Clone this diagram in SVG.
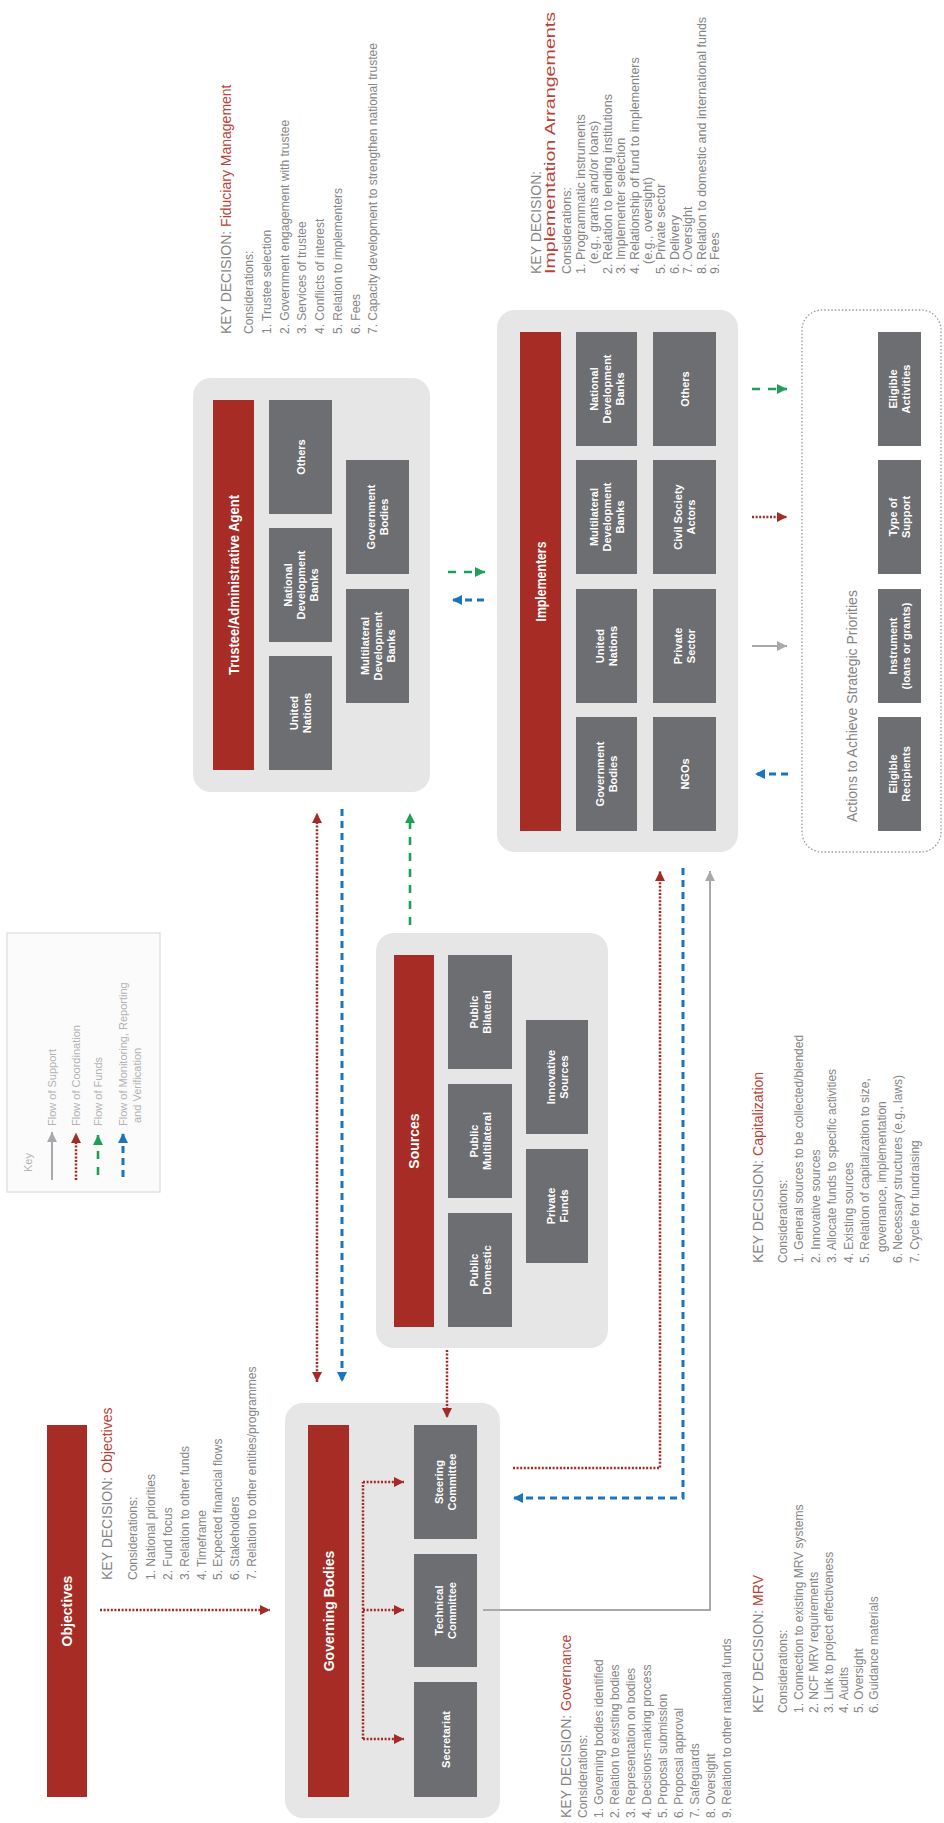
<svg xmlns="http://www.w3.org/2000/svg" width="944" height="1823" viewBox="0 0 944 1823">
  <defs>
    <marker id="ahRed" markerUnits="userSpaceOnUse" markerWidth="10" markerHeight="10" viewBox="0 0 10 10" refX="10" refY="5" orient="auto-start-reverse">
      <path d="M0,0 L10,5 L0,10 z" fill="#a32b24"/>
    </marker>
    <marker id="ahBlue" markerUnits="userSpaceOnUse" markerWidth="10" markerHeight="10" viewBox="0 0 10 10" refX="10" refY="5" orient="auto-start-reverse">
      <path d="M0,0 L10,5 L0,10 z" fill="#1c75bc"/>
    </marker>
    <marker id="ahGreen" markerUnits="userSpaceOnUse" markerWidth="10" markerHeight="10" viewBox="0 0 10 10" refX="10" refY="5" orient="auto-start-reverse">
      <path d="M0,0 L10,5 L0,10 z" fill="#1fa05a"/>
    </marker>
    <marker id="ahGray" markerUnits="userSpaceOnUse" markerWidth="10" markerHeight="10" viewBox="0 0 10 10" refX="10" refY="5" orient="auto-start-reverse">
      <path d="M0,0 L10,5 L0,10 z" fill="#a7a9ac"/>
    </marker>
  </defs>
  <style>
    .outer{fill:#e6e6e6}
    .bar{fill:#a62c25}
    .box{fill:#6d6e71}
    .barT{font-family:"Liberation Sans",Arial,sans-serif;font-size:14px;font-weight:bold;fill:#fff;text-anchor:middle}
    .boxT{font-family:"Liberation Sans",Arial,sans-serif;font-size:11px;font-weight:bold;fill:#fff;text-anchor:middle}
    .kd{font-family:"Liberation Sans",Arial,sans-serif;font-size:14px;fill:#858585}
    .red{fill:#b8433b}
    .it{font-family:"Liberation Sans",Arial,sans-serif;font-size:12px;fill:#858585}
    .itn{font-family:"Liberation Sans",Arial,sans-serif;font-size:12.5px;fill:#858585}
    .lg{font-family:"Liberation Sans",Arial,sans-serif;font-size:11px;fill:#b3b3b3}
    .crd{stroke:#a32b24;stroke-width:2.5;stroke-dasharray:2 1.6;fill:none}
    .fnd{stroke:#1fa05a;stroke-width:2.6;stroke-dasharray:8 8;fill:none}
    .mrv{stroke:#1c75bc;stroke-width:3;stroke-dasharray:7 5;fill:none}
    .sup{stroke:#a7a9ac;stroke-width:2;fill:none}
  </style>

  <!-- Drawing is laid out in landscape and turned a quarter turn counter-clockwise -->
  <g transform="translate(0,1823) rotate(-90)">

    <!-- Key -->
    <g id="legend">
      <rect x="631" y="7" width="259" height="153" fill="#fbfbfb" stroke="#dcdcdc" stroke-width="1.2"/>
      <text class="lg" x="651" y="32" font-size="12">Key</text>
      <line class="sup" x1="643" y1="52" x2="691" y2="52" marker-end="url(#ahGray)"/>
      <line class="crd" x1="643" y1="76" x2="690" y2="76" marker-end="url(#ahRed)"/>
      <line class="fnd" x1="648" y1="98" x2="688" y2="98" stroke-dasharray="14 10" marker-end="url(#ahGreen)"/>
      <line class="mrv" x1="646" y1="123" x2="690" y2="123" marker-end="url(#ahBlue)"/>
      <text class="lg" x="697" y="56">Flow of Support</text>
      <text class="lg" x="697" y="80">Flow of Coordination</text>
      <text class="lg" x="697" y="102">Flow of Funds</text>
      <text class="lg" x="697" y="127">Flow of Monitoring, Reporting</text>
      <text class="lg" x="700" y="141">and Verification</text>
    </g>

    <!-- Objectives -->
    <g id="objectives">
      <rect class="bar" x="26" y="47" width="372" height="40"/>
      <text class="barT" x="212" y="72">Objectives</text>
    </g>
    <g id="kd-objectives">
      <text class="kd" x="243" y="112">KEY DECISION: <tspan class="red">Objectives</tspan></text>
      <text class="it" x="243" y="137">Considerations:</text>
      <text class="it" x="243" y="155">1. National priorities</text>
      <text class="it" x="243" y="172">2. Fund focus</text>
      <text class="it" x="243" y="189">3. Relation to other funds</text>
      <text class="it" x="243" y="206">4. Timeframe</text>
      <text class="it" x="243" y="222">5. Expected financial flows</text>
      <text class="it" x="243" y="239">6. Stakeholders</text>
      <text class="it" x="243" y="256">7. Relation to other entities/programmes</text>
    </g>

    <!-- Governing Bodies -->
    <g id="governing-bodies">
      <rect class="outer" x="5" y="285" width="415" height="215" rx="18"/>
      <rect class="bar" x="26" y="308" width="372" height="41"/>
      <text class="barT" x="212" y="333.5">Governing Bodies</text>
      <rect class="box" x="284" y="414" width="114" height="63"/>
      <text class="boxT" x="341" y="443">Steering</text>
      <text class="boxT" x="341" y="456">Committee</text>
      <rect class="box" x="156" y="414" width="113" height="63"/>
      <text class="boxT" x="212.5" y="443">Technical</text>
      <text class="boxT" x="212.5" y="456">Committee</text>
      <rect class="box" x="26" y="414" width="115" height="63"/>
      <text class="boxT" x="83.5" y="449.5">Secretariat</text>
    </g>
    <g id="kd-governance">
      <text class="kd" x="5" y="571">KEY DECISION: <tspan class="red">Governance</tspan></text>
      <text class="it" x="5" y="587">Considerations:</text>
      <text class="it" x="5" y="603">1. Governing bodies identified</text>
      <text class="it" x="5" y="619">2. Relation to existing bodies</text>
      <text class="it" x="5" y="635">3. Representation on bodies</text>
      <text class="it" x="5" y="651">4. Decisions-making process</text>
      <text class="it" x="5" y="667">5. Proposal submission</text>
      <text class="it" x="5" y="683">6. Proposal approval</text>
      <text class="it" x="5" y="699">7. Safeguards</text>
      <text class="it" x="5" y="715">8. Oversight</text>
      <text class="it" x="5" y="731">9. Relation to other national funds</text>
    </g>
    <g id="kd-mrv">
      <text class="kd" x="110" y="763">KEY DECISION: <tspan class="red">MRV</tspan></text>
      <text class="it" x="110" y="787">Considerations:</text>
      <text class="it" x="110" y="803">1. Connection to existing MRV systems</text>
      <text class="it" x="110" y="818">2. NCF MRV requirements</text>
      <text class="it" x="110" y="833">3. Link to project effectiveness</text>
      <text class="it" x="110" y="848">4. Audits</text>
      <text class="it" x="110" y="863">5. Oversight</text>
      <text class="it" x="110" y="878">6. Guidance materials</text>
    </g>

    <!-- Sources -->
    <g id="sources">
      <rect class="outer" x="475" y="376" width="415" height="232" rx="18"/>
      <rect class="bar" x="496" y="394" width="372" height="40"/>
      <text class="barT" x="682" y="419">Sources</text>
      <rect class="box" x="754" y="448" width="114" height="64"/>
      <text class="boxT" x="811" y="477.5">Public</text>
      <text class="boxT" x="811" y="490.5">Bilateral</text>
      <rect class="box" x="625" y="448" width="114" height="64"/>
      <text class="boxT" x="682" y="477.5">Public</text>
      <text class="boxT" x="682" y="490.5">Multilateral</text>
      <rect class="box" x="496" y="448" width="114" height="64"/>
      <text class="boxT" x="553" y="477.5">Public</text>
      <text class="boxT" x="553" y="490.5">Domestic</text>
      <rect class="box" x="689" y="526" width="114" height="62"/>
      <text class="boxT" x="746" y="554.5">Innovative</text>
      <text class="boxT" x="746" y="567.5">Sources</text>
      <rect class="box" x="560" y="526" width="114" height="62"/>
      <text class="boxT" x="617" y="554.5">Private</text>
      <text class="boxT" x="617" y="567.5">Funds</text>
    </g>
    <g id="kd-capitalization">
      <text class="kd" x="560" y="763">KEY DECISION: <tspan class="red">Capitalization</tspan></text>
      <text class="it" x="560" y="787">Considerations:</text>
      <text class="it" x="560" y="803">1. General sources to be collected/blended</text>
      <text class="it" x="560" y="819.5">2. Innovative sources</text>
      <text class="it" x="560" y="836">3. Allocate funds to specific activities</text>
      <text class="it" x="560" y="852.5">4. Existing sources</text>
      <text class="it" x="560" y="869">5. Relation of capitalization to size,</text>
      <text class="it" x="571" y="885.5">governance, implementation</text>
      <text class="it" x="560" y="902">6. Necessary structures (e.g., laws)</text>
      <text class="it" x="560" y="918.5">7. Cycle for fundraising</text>
    </g>

    <!-- Trustee / Administrative Agent -->
    <g id="trustee">
      <rect class="outer" x="1031" y="193" width="414" height="237" rx="18"/>
      <rect class="bar" x="1053" y="213" width="370" height="41"/>
      <text class="barT" x="1238" y="238.5" textLength="180" lengthAdjust="spacingAndGlyphs">Trustee/Administrative Agent</text>
      <rect class="box" x="1309" y="269" width="114" height="63"/>
      <text class="boxT" x="1366" y="304.5">Others</text>
      <rect class="box" x="1181" y="269" width="114" height="63"/>
      <text class="boxT" x="1238" y="291.5">National</text>
      <text class="boxT" x="1238" y="304.5">Development</text>
      <text class="boxT" x="1238" y="317.5">Banks</text>
      <rect class="box" x="1053" y="269" width="114" height="63"/>
      <text class="boxT" x="1110" y="298">United</text>
      <text class="boxT" x="1110" y="311">Nations</text>
      <rect class="box" x="1249" y="346" width="114" height="63"/>
      <text class="boxT" x="1306" y="375">Government</text>
      <text class="boxT" x="1306" y="388">Bodies</text>
      <rect class="box" x="1120" y="346" width="114" height="63"/>
      <text class="boxT" x="1177" y="368.5">Multilateral</text>
      <text class="boxT" x="1177" y="381.5">Development</text>
      <text class="boxT" x="1177" y="394.5">Banks</text>
    </g>
    <g id="kd-fiduciary">
      <text class="kd" x="1489" y="231" font-size="16">KEY DECISION: <tspan class="red">Fiduciary Management</tspan></text>
      <text class="it" x="1489" y="253">Considerations:</text>
      <text class="it" x="1489" y="271">1. Trustee selection</text>
      <text class="it" x="1489" y="288.7">2. Government engagement with trustee</text>
      <text class="it" x="1489" y="306.4">3. Services of trustee</text>
      <text class="it" x="1489" y="324">4. Conflicts of interest</text>
      <text class="it" x="1489" y="341.8">5. Relation to implementers</text>
      <text class="it" x="1489" y="359.5">6. Fees</text>
      <text class="it" x="1489" y="377">7. Capacity development to strengthen national trustee</text>
    </g>

    <!-- Implementers -->
    <g id="implementers">
      <rect class="outer" x="971" y="497" width="542" height="241" rx="18"/>
      <rect class="bar" x="992" y="520" width="499" height="41"/>
      <text class="barT" x="1241.5" y="545.5" textLength="80" lengthAdjust="spacingAndGlyphs">Implementers</text>
      <rect class="box" x="1377" y="576" width="114" height="61"/>
      <text class="boxT" x="1434" y="597.5">National</text>
      <text class="boxT" x="1434" y="610.5">Development</text>
      <text class="boxT" x="1434" y="623.5">Banks</text>
      <rect class="box" x="1249" y="576" width="114" height="61"/>
      <text class="boxT" x="1306" y="597.5">Multilateral</text>
      <text class="boxT" x="1306" y="610.5">Development</text>
      <text class="boxT" x="1306" y="623.5">Banks</text>
      <rect class="box" x="1120" y="576" width="114" height="61"/>
      <text class="boxT" x="1177" y="604">United</text>
      <text class="boxT" x="1177" y="617">Nations</text>
      <rect class="box" x="992" y="576" width="114" height="61"/>
      <text class="boxT" x="1049" y="604">Government</text>
      <text class="boxT" x="1049" y="617">Bodies</text>
      <rect class="box" x="1377" y="653" width="114" height="63"/>
      <text class="boxT" x="1434" y="688.5">Others</text>
      <rect class="box" x="1249" y="653" width="114" height="63"/>
      <text class="boxT" x="1306" y="682">Civil Society</text>
      <text class="boxT" x="1306" y="695">Actors</text>
      <rect class="box" x="1120" y="653" width="114" height="63"/>
      <text class="boxT" x="1177" y="682">Private</text>
      <text class="boxT" x="1177" y="695">Sector</text>
      <rect class="box" x="992" y="653" width="114" height="63"/>
      <text class="boxT" x="1049" y="688.5">NGOs</text>
    </g>
    <g id="kd-implementation">
      <text class="kd" x="1549" y="541">KEY DECISION:</text>
      <text class="kd red" x="1549" y="555" font-size="14.5" textLength="262" lengthAdjust="spacingAndGlyphs">Implementation Arrangements</text>
      <text class="itn" x="1549" y="571">Considerations:</text>
      <text class="itn" x="1549" y="585">1. Programmatic instruments</text>
      <text class="itn" x="1559" y="598.4">(e.g., grants and/or loans)</text>
      <text class="itn" x="1549" y="611.8">2. Relation to lending institutions</text>
      <text class="itn" x="1549" y="625.2">3. Implementer selection</text>
      <text class="itn" x="1549" y="638.6">4. Relationship of fund to implementers</text>
      <text class="itn" x="1559" y="652">(e.g., oversight)</text>
      <text class="itn" x="1549" y="665.4">5. Private sector</text>
      <text class="itn" x="1549" y="678.8">6. Delivery</text>
      <text class="itn" x="1549" y="692.2">7. Oversight</text>
      <text class="itn" x="1549" y="705.6">8. Relation to domestic and international funds</text>
      <text class="itn" x="1549" y="719">9. Fees</text>
    </g>

    <!-- Actions to Achieve Strategic Priorities -->
    <g id="actions">
      <rect x="971" y="802" width="542" height="139" rx="20" fill="none" stroke="#9a9a9a" stroke-width="1.3" stroke-dasharray="1.5 2"/>
      <text class="kd" x="1001" y="857" font-size="14" fill="#7a7a7a">Actions to Achieve Strategic Priorities</text>
      <rect class="box" x="1377" y="878" width="114" height="43"/>
      <text class="boxT" x="1434" y="897">Eligible</text>
      <text class="boxT" x="1434" y="910">Activities</text>
      <rect class="box" x="1249" y="878" width="114" height="43"/>
      <text class="boxT" x="1306" y="897">Type of</text>
      <text class="boxT" x="1306" y="910">Support</text>
      <rect class="box" x="1120" y="878" width="114" height="43"/>
      <text class="boxT" x="1177" y="897">Instrument</text>
      <text class="boxT" x="1177" y="910">(loans or grants)</text>
      <rect class="box" x="992" y="878" width="114" height="43"/>
      <text class="boxT" x="1049" y="897">Eligible</text>
      <text class="boxT" x="1049" y="910">Recipients</text>
    </g>

    <!-- Connectors -->
    <g id="connectors">
      <!-- objectives to governing bodies -->
      <line class="crd" x1="213" y1="100" x2="213" y2="270" marker-end="url(#ahRed)"/>
      <!-- governing bodies to its committees -->
      <line class="crd" x1="84" y1="363" x2="341" y2="363"/>
      <line class="crd" x1="341" y1="363" x2="341" y2="404" marker-end="url(#ahRed)"/>
      <line class="crd" x1="213" y1="363" x2="213" y2="404" marker-end="url(#ahRed)"/>
      <line class="crd" x1="84" y1="363" x2="84" y2="404" marker-end="url(#ahRed)"/>
      <!-- sources to steering committee -->
      <line class="crd" x1="473" y1="447" x2="405" y2="447" marker-end="url(#ahRed)"/>
      <!-- governing bodies and trustee -->
      <line class="crd" x1="441" y1="317" x2="1010" y2="317" marker-start="url(#ahRed)" marker-end="url(#ahRed)"/>
      <line class="mrv" x1="1014" y1="342" x2="441" y2="342" marker-end="url(#ahBlue)"/>
      <!-- sources to trustee -->
      <line class="fnd" x1="898" y1="410" x2="1010" y2="410" marker-end="url(#ahGreen)"/>
      <!-- trustee and implementers -->
      <line class="fnd" x1="1251" y1="448" x2="1251" y2="485" stroke-dasharray="9 9" marker-end="url(#ahGreen)"/>
      <line class="mrv" x1="1223" y1="484" x2="1223" y2="452" marker-end="url(#ahBlue)"/>
      <!-- governing bodies and implementers -->
      <polyline class="crd" points="355,513 355,660 952,660" marker-end="url(#ahRed)"/>
      <polyline class="mrv" points="955,683 325,683 325,513" marker-end="url(#ahBlue)"/>
      <polyline class="sup" points="213,483 213,710 952,710" marker-end="url(#ahGray)"/>
      <!-- implementers and actions -->
      <line class="fnd" x1="1434" y1="752" x2="1434" y2="787" stroke-dasharray="9 9" marker-end="url(#ahGreen)"/>
      <line class="crd" x1="1306" y1="752" x2="1306" y2="787" marker-end="url(#ahRed)"/>
      <line class="sup" x1="1177" y1="752" x2="1177" y2="787" marker-end="url(#ahGray)"/>
      <line class="mrv" x1="1049" y1="788" x2="1049" y2="755" marker-end="url(#ahBlue)"/>
    </g>
  </g>
</svg>
